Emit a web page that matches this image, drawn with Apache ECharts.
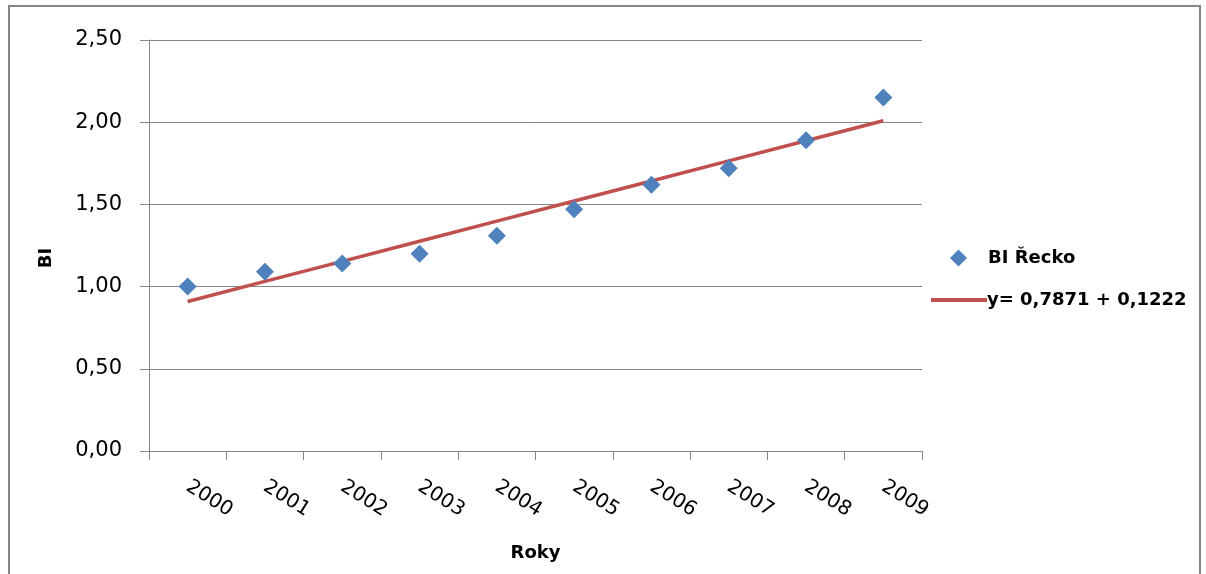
<!DOCTYPE html>
<html>
<head>
<meta charset="utf-8">
<script src="https://cdn.jsdelivr.net/npm/echarts@6/dist/echarts.min.js"></script>
<style>
  html, body { margin: 0; padding: 0; background: #fff; }
  #chart { width: 1206px; height: 574px; }
</style>
</head>
<body>
<div id="chart"></div>
<script>
// Roky (years) on the category axis
var years = ['2000', '2001', '2002', '2003', '2004', '2005', '2006', '2007', '2008', '2009'];
// BI index for Greece
var biRecko = [1.00, 1.09, 1.14, 1.20, 1.31, 1.47, 1.62, 1.72, 1.89, 2.15];
// Linear trend coefficients: y = a + b * t, t = 1..10
var trendA = 0.7871;
var trendB = 0.1222;
var yTicks = [0, 0.5, 1, 1.5, 2, 2.5];

var trend = years.map(function (y, i) { return +(trendA + trendB * (i + 1)).toFixed(4); });
var trendName = 'y= ' + String(trendA).replace('.', ',') + ' + ' + String(trendB).replace('.', ',');

var font = 'DejaVu Sans';
var chart = echarts.init(document.getElementById('chart'), null, { renderer: 'canvas' });

chart.setOption({
  animation: false,
  backgroundColor: '#fff',
  grid: { left: 149, right: 284, top: 40, bottom: 123, containLabel: false },
  legend: [
    {
      data: [{ name: 'BI Řecko', icon: 'diamond' }],
      left: 945, top: 244,
      itemWidth: 17, itemHeight: 17,
      textStyle: { fontFamily: font, fontSize: 18, fontWeight: 'bold', color: '#000', padding: [0, 0, 0, 16] }
    },
    {
      data: [{ name: trendName, icon: 'rect' }],
      left: 926, top: 286,
      itemWidth: 56, itemHeight: 4,
      textStyle: { fontFamily: font, fontSize: 18, fontWeight: 'bold', color: '#000', padding: [0, 0, 0, -5] }
    }
  ],
  xAxis: {
    type: 'category',
    data: years,
    boundaryGap: true,
    name: 'Roky',
    nameLocation: 'middle',
    nameGap: 93,
    nameTextStyle: { fontFamily: font, fontSize: 18, fontWeight: 'bold', color: '#000' },
    axisLine: { lineStyle: { color: '#868686', width: 1 } },
    axisTick: { show: true, alignWithLabel: false, length: 9, lineStyle: { color: '#868686' } },
    axisLabel: {
      rotate: -32, margin: 34, interval: 0,
      fontFamily: font, fontSize: 20, color: '#000'
    },
    splitLine: { show: false }
  },
  yAxis: {
    type: 'value',
    min: yTicks[0], max: yTicks[yTicks.length - 1], interval: 0.5,
    axisLine: { show: true, lineStyle: { color: '#868686', width: 1 } },
    axisTick: { show: true, length: 9, lineStyle: { color: '#868686' } },
    axisLabel: {
      margin: 27, fontFamily: font, fontSize: 21, color: '#000',
      formatter: function (v) { return v.toFixed(2).replace('.', ','); }
    },
    splitLine: { show: true, lineStyle: { color: '#868686', width: 1 } }
  },
  series: [
    {
      name: 'BI Řecko',
      type: 'scatter',
      data: biRecko,
      symbol: 'diamond',
      symbolSize: [18, 18],
      itemStyle: { color: '#4F81BD', opacity: 1 },
      z: 3
    },
    {
      name: trendName,
      type: 'line',
      data: trend,
      showSymbol: false,
      symbol: 'none',
      lineStyle: { color: '#C0504D', width: 3.5 },
      itemStyle: { color: '#C0504D' },
      z: 2
    }
  ],
  graphic: [
    {
      type: 'rect',
      shape: { x: 9, y: 6, width: 1191, height: 600 },
      style: { fill: 'none', stroke: '#868686', lineWidth: 2 },
      silent: true
    },
    {
      // y-axis title
      type: 'text',
      x: 46, y: 258,
      rotation: Math.PI / 2,
      style: {
        text: 'BI', fontFamily: font, fontSize: 18, fontWeight: 'bold', fill: '#000',
        align: 'center', verticalAlign: 'middle'
      },
      silent: true
    }
  ]
});
</script>
</body>
</html>
